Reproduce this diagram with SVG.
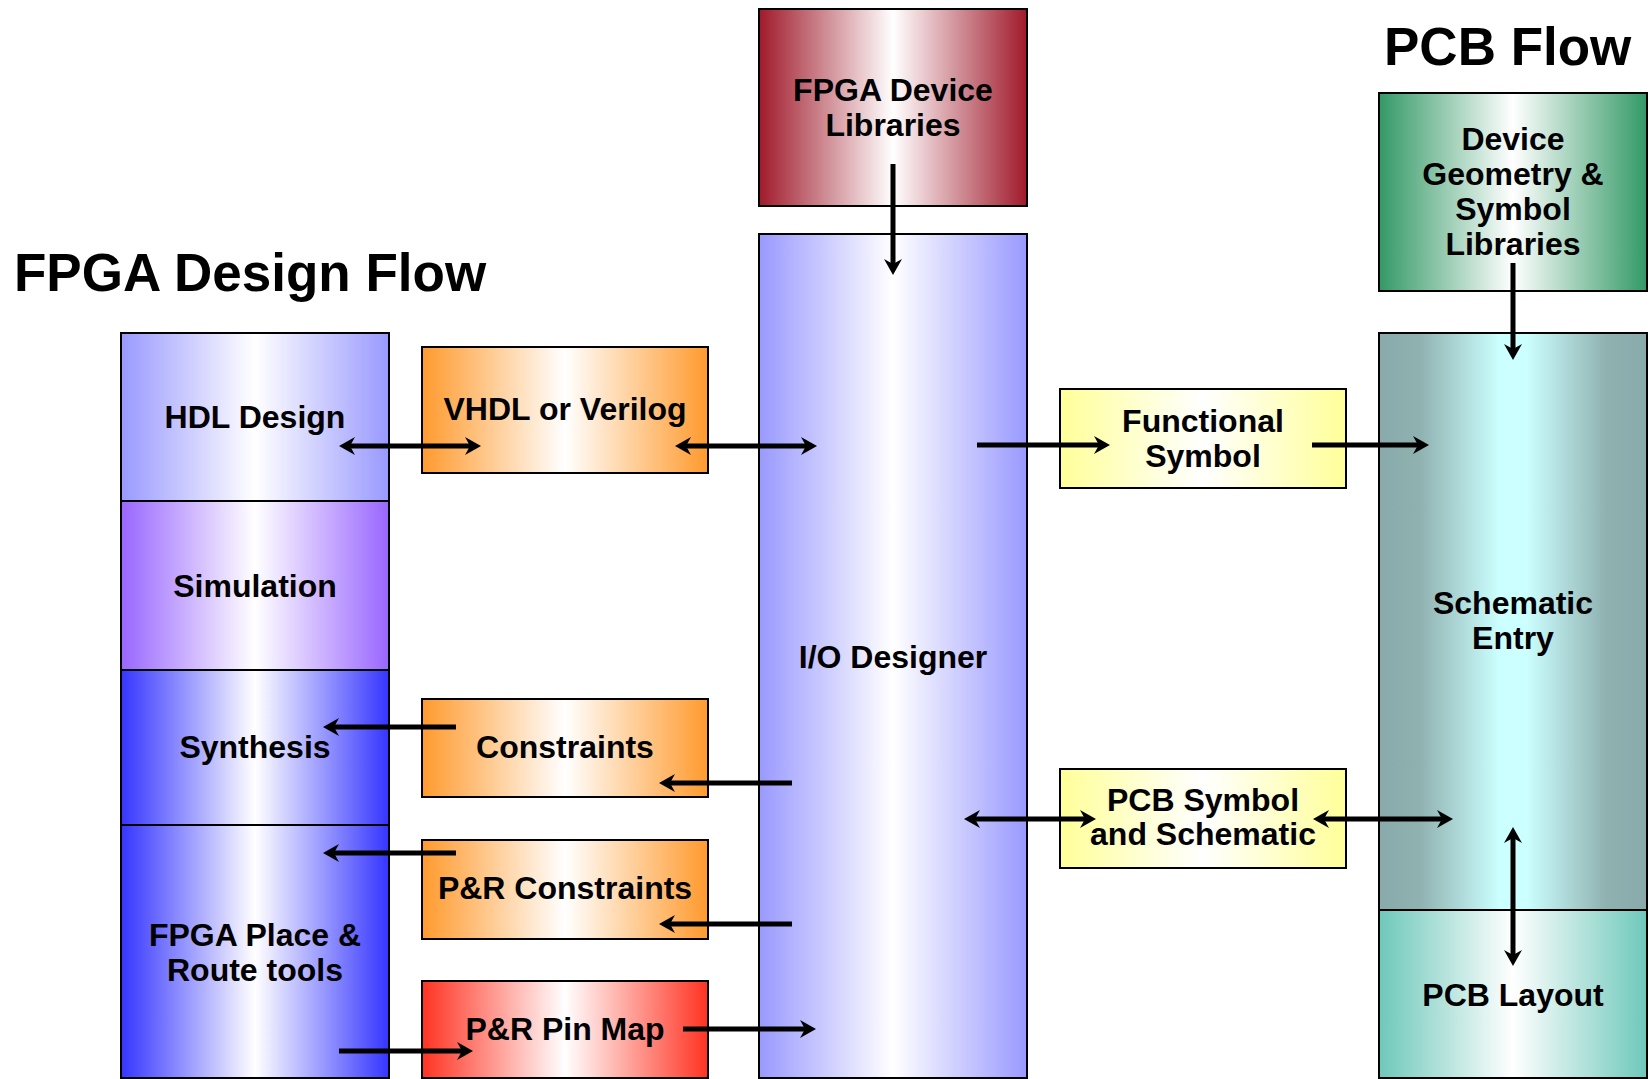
<svg xmlns="http://www.w3.org/2000/svg" width="1652" height="1079" viewBox="0 0 1652 1079">
  <defs>
    <style>
      .box { stroke: #000; stroke-width: 2; }
      .lbl { font-family: "Liberation Sans", Arial, sans-serif; font-weight: bold; font-size: 32px; text-anchor: middle; fill: #000; }
      .title { font-family: "Liberation Sans", Arial, sans-serif; font-weight: bold; font-size: 53px; fill: #000; }
      .wire { stroke: #000; stroke-width: 5; fill: none; }
      .one { marker-end: url(#head); }
      .two { marker-start: url(#head); marker-end: url(#head); }
    </style>
    <marker id="head" markerUnits="userSpaceOnUse" viewBox="-18 -10 20 20" refX="-9" refY="0" markerWidth="20" markerHeight="20" orient="auto-start-reverse">
      <path d="M0,0 L-16,-9 L-11,0 L-16,9 Z" fill="#000"/>
    </marker>
    <linearGradient id="gRed" x1="0" x2="1" y1="0" y2="0">
      <stop offset="0" stop-color="#A01A2B"/>
      <stop offset="0.5" stop-color="#FFFFFF"/>
      <stop offset="1" stop-color="#A01A2B"/>
    </linearGradient>
    <linearGradient id="gLilac" x1="0" x2="1" y1="0" y2="0">
      <stop offset="0" stop-color="#9999FF"/>
      <stop offset="0.5" stop-color="#FFFFFF"/>
      <stop offset="1" stop-color="#9999FF"/>
    </linearGradient>
    <linearGradient id="gPurple" x1="0" x2="1" y1="0" y2="0">
      <stop offset="0" stop-color="#9966FF"/>
      <stop offset="0.5" stop-color="#FFFFFF"/>
      <stop offset="1" stop-color="#9966FF"/>
    </linearGradient>
    <linearGradient id="gBlue" x1="0" x2="1" y1="0" y2="0">
      <stop offset="0" stop-color="#3535FF"/>
      <stop offset="0.5" stop-color="#FFFFFF"/>
      <stop offset="1" stop-color="#3535FF"/>
    </linearGradient>
    <linearGradient id="gOrange" x1="0" x2="1" y1="0" y2="0">
      <stop offset="0" stop-color="#FF9A2E"/>
      <stop offset="0.5" stop-color="#FFFFFF"/>
      <stop offset="1" stop-color="#FF9A2E"/>
    </linearGradient>
    <linearGradient id="gScarlet" x1="0" x2="1" y1="0" y2="0">
      <stop offset="0" stop-color="#FF3322"/>
      <stop offset="0.5" stop-color="#FFFFFF"/>
      <stop offset="1" stop-color="#FF3322"/>
    </linearGradient>
    <linearGradient id="gYellow" x1="0" x2="1" y1="0" y2="0">
      <stop offset="0" stop-color="#FFFF99"/>
      <stop offset="0.5" stop-color="#FFFFFF"/>
      <stop offset="1" stop-color="#FFFF99"/>
    </linearGradient>
    <linearGradient id="gGreen" x1="0" x2="1" y1="0" y2="0">
      <stop offset="0" stop-color="#339966"/>
      <stop offset="0.5" stop-color="#FFFFFF"/>
      <stop offset="1" stop-color="#339966"/>
    </linearGradient>
    <linearGradient id="gCyan" x1="0" x2="1" y1="0" y2="0">
      <stop offset="0" stop-color="#88AAAA"/>
      <stop offset="0.15" stop-color="#8FB1B0"/>
      <stop offset="0.45" stop-color="#CCFFFF"/>
      <stop offset="0.55" stop-color="#CCFFFF"/>
      <stop offset="0.85" stop-color="#8FB1B0"/>
      <stop offset="1" stop-color="#88AAAA"/>
    </linearGradient>
    <linearGradient id="gTeal" x1="0" x2="1" y1="0" y2="0">
      <stop offset="0" stop-color="#6EC8BA"/>
      <stop offset="0.5" stop-color="#FFFFFF"/>
      <stop offset="1" stop-color="#6EC8BA"/>
    </linearGradient>
  </defs>

  <rect width="1652" height="1079" fill="#FFFFFF"/>

  <!-- headings -->
  <text class="title" x="14" y="291">FPGA Design Flow</text>
  <text class="title" x="1384" y="65">PCB Flow</text>

  <!-- central column -->
  <g id="fpga-device-libraries">
    <rect class="box" x="759" y="9" width="268" height="197" fill="url(#gRed)"/>
    <text class="lbl" x="893" y="101">FPGA Device</text>
    <text class="lbl" x="893" y="136">Libraries</text>
  </g>
  <g id="io-designer">
    <rect class="box" x="759" y="234" width="268" height="844" fill="url(#gLilac)"/>
    <text class="lbl" x="893" y="668">I/O Designer</text>
  </g>

  <!-- FPGA tool stack -->
  <g id="hdl-design">
    <rect class="box" x="121" y="333" width="268" height="168" fill="url(#gLilac)"/>
    <text class="lbl" x="255" y="428">HDL Design</text>
  </g>
  <g id="simulation">
    <rect class="box" x="121" y="501" width="268" height="169" fill="url(#gPurple)"/>
    <text class="lbl" x="255" y="597">Simulation</text>
  </g>
  <g id="synthesis">
    <rect class="box" x="121" y="670" width="268" height="155" fill="url(#gBlue)"/>
    <text class="lbl" x="255" y="758">Synthesis</text>
  </g>
  <g id="place-route">
    <rect class="box" x="121" y="825" width="268" height="253" fill="url(#gBlue)"/>
    <text class="lbl" x="255" y="946">FPGA Place &amp;</text>
    <text class="lbl" x="255" y="981">Route tools</text>
  </g>

  <!-- exchanged files -->
  <g id="vhdl-verilog">
    <rect class="box" x="422" y="347" width="286" height="126" fill="url(#gOrange)"/>
    <text class="lbl" x="565" y="420">VHDL or Verilog</text>
  </g>
  <g id="constraints">
    <rect class="box" x="422" y="699" width="286" height="98" fill="url(#gOrange)"/>
    <text class="lbl" x="565" y="758">Constraints</text>
  </g>
  <g id="pr-constraints">
    <rect class="box" x="422" y="840" width="286" height="99" fill="url(#gOrange)"/>
    <text class="lbl" x="565" y="899">P&amp;R Constraints</text>
  </g>
  <g id="pr-pin-map">
    <rect class="box" x="422" y="981" width="286" height="97" fill="url(#gScarlet)"/>
    <text class="lbl" x="565" y="1040">P&amp;R Pin Map</text>
  </g>
  <g id="functional-symbol">
    <rect class="box" x="1060" y="389" width="286" height="99" fill="url(#gYellow)"/>
    <text class="lbl" x="1203" y="432">Functional</text>
    <text class="lbl" x="1203" y="467">Symbol</text>
  </g>
  <g id="pcb-symbol-schematic">
    <rect class="box" x="1060" y="769" width="286" height="99" fill="url(#gYellow)"/>
    <text class="lbl" x="1203" y="811">PCB Symbol</text>
    <text class="lbl" x="1203" y="845">and Schematic</text>
  </g>

  <!-- PCB tool stack -->
  <g id="pcb-libraries">
    <rect class="box" x="1379" y="93" width="268" height="198" fill="url(#gGreen)"/>
    <text class="lbl" x="1513" y="150">Device</text>
    <text class="lbl" x="1513" y="185">Geometry &amp;</text>
    <text class="lbl" x="1513" y="220">Symbol</text>
    <text class="lbl" x="1513" y="255">Libraries</text>
  </g>
  <g id="schematic-entry">
    <rect class="box" x="1379" y="333" width="268" height="577" fill="url(#gCyan)"/>
    <text class="lbl" x="1513" y="614">Schematic</text>
    <text class="lbl" x="1513" y="649">Entry</text>
  </g>
  <g id="pcb-layout">
    <rect class="box" x="1379" y="910" width="268" height="168" fill="url(#gTeal)"/>
    <text class="lbl" x="1513" y="1006">PCB Layout</text>
  </g>

  <!-- connectors: line ends sit 9px short of each arrow tip -->
  <g id="connectors">
    <line class="wire two" x1="348" y1="446" x2="472" y2="446"/>
    <line class="wire two" x1="684" y1="446" x2="808" y2="446"/>
    <line class="wire one" x1="893" y1="164" x2="893" y2="266"/>
    <line class="wire one" x1="977" y1="445" x2="1101" y2="445"/>
    <line class="wire one" x1="1312" y1="445" x2="1420" y2="445"/>
    <line class="wire one" x1="1513" y1="263" x2="1513" y2="351"/>
    <line class="wire one" x1="456" y1="727" x2="332" y2="727"/>
    <line class="wire one" x1="792" y1="783" x2="668" y2="783"/>
    <line class="wire one" x1="456" y1="853" x2="332" y2="853"/>
    <line class="wire one" x1="792" y1="924" x2="668" y2="924"/>
    <line class="wire one" x1="683" y1="1029" x2="807" y2="1029"/>
    <line class="wire one" x1="339" y1="1051" x2="464" y2="1051"/>
    <line class="wire two" x1="973" y1="819" x2="1087" y2="819"/>
    <line class="wire two" x1="1322" y1="819" x2="1444" y2="819"/>
    <line class="wire two" x1="1513" y1="836" x2="1513" y2="957"/>
  </g>
</svg>
